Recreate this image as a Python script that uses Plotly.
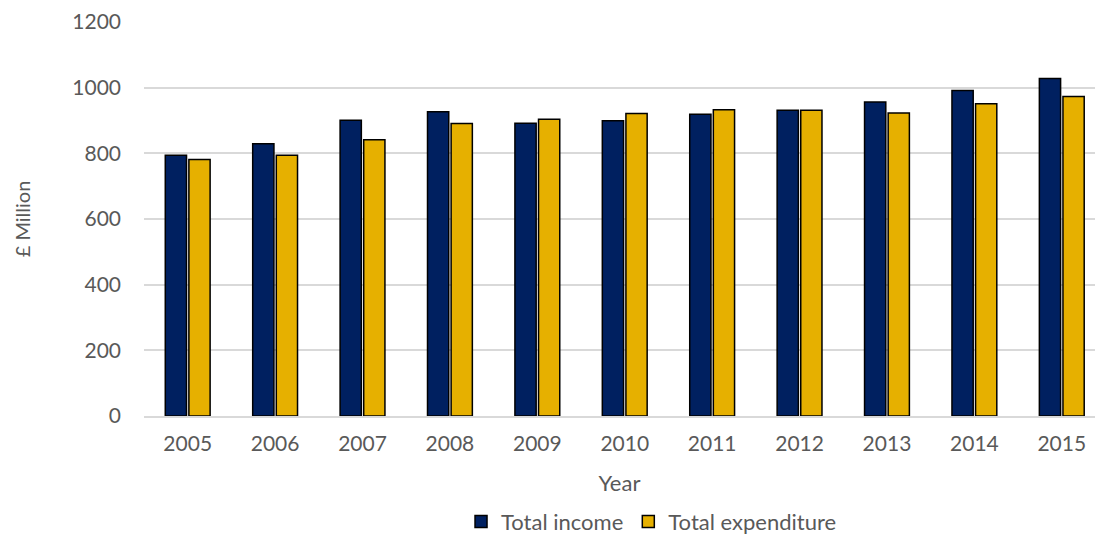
import plotly.graph_objects as go

years = ["2005", "2006", "2007", "2008", "2009", "2010", "2011", "2012", "2013", "2014", "2015"]
total_income = [794, 829, 901, 927, 892, 899, 919, 931, 956, 991, 1028]
total_expenditure = [781, 794, 841, 891, 904, 921, 933, 931, 923, 951, 973]
y_ticks = [0, 200, 400, 600, 800, 1000, 1200]

FONT = "Lato"
GREY = "#595959"

fig = go.Figure()
fig.add_trace(go.Bar(
    x=years, y=total_income, name="Total income",
    marker=dict(color="#002060", line=dict(color="#000000", width=1.5)),
))
fig.add_trace(go.Bar(
    x=years, y=total_expenditure, name="Total expenditure",
    marker=dict(color="#E6B000", line=dict(color="#000000", width=1.5)),
))

fig.update_layout(
    width=1095, height=535,
    margin=dict(l=144, r=0, t=22, b=119, autoexpand=False),
    paper_bgcolor="white", plot_bgcolor="white",
    barmode="group", bargap=0.46, bargroupgap=0.1,
    font=dict(family=FONT, size=20, color=GREY),
    showlegend=True,
    legend=dict(orientation="h", xref="container", yref="paper",
                x=0.595, xanchor="center", y=-0.268, yanchor="middle",
                font=dict(family=FONT, size=22, color=GREY), itemwidth=30,
                traceorder="normal"),
    xaxis=dict(
        type="category", range=[-0.5, 10.38], automargin=True,
        showgrid=False, showline=True, linecolor="#D9D9D9", linewidth=1.5,
        ticks="outside", ticklen=8, tickcolor="rgba(0,0,0,0)",
        tickfont=dict(size=21, color=GREY),
        title=dict(text="Year", font=dict(size=22, color=GREY), standoff=22),
    ),
    yaxis=dict(
        range=[0, 1200], tickvals=y_ticks, automargin=False,
        showgrid=True, gridcolor="#D9D9D9", gridwidth=1.5,
        zeroline=False, showline=False, ticks="",
        ticklabelstandoff=22,
        tickfont=dict(size=21, color=GREY),
        title=dict(text="£ Million", font=dict(size=20, color=GREY), standoff=36),
    ),
)

fig.write_html("out.html")
